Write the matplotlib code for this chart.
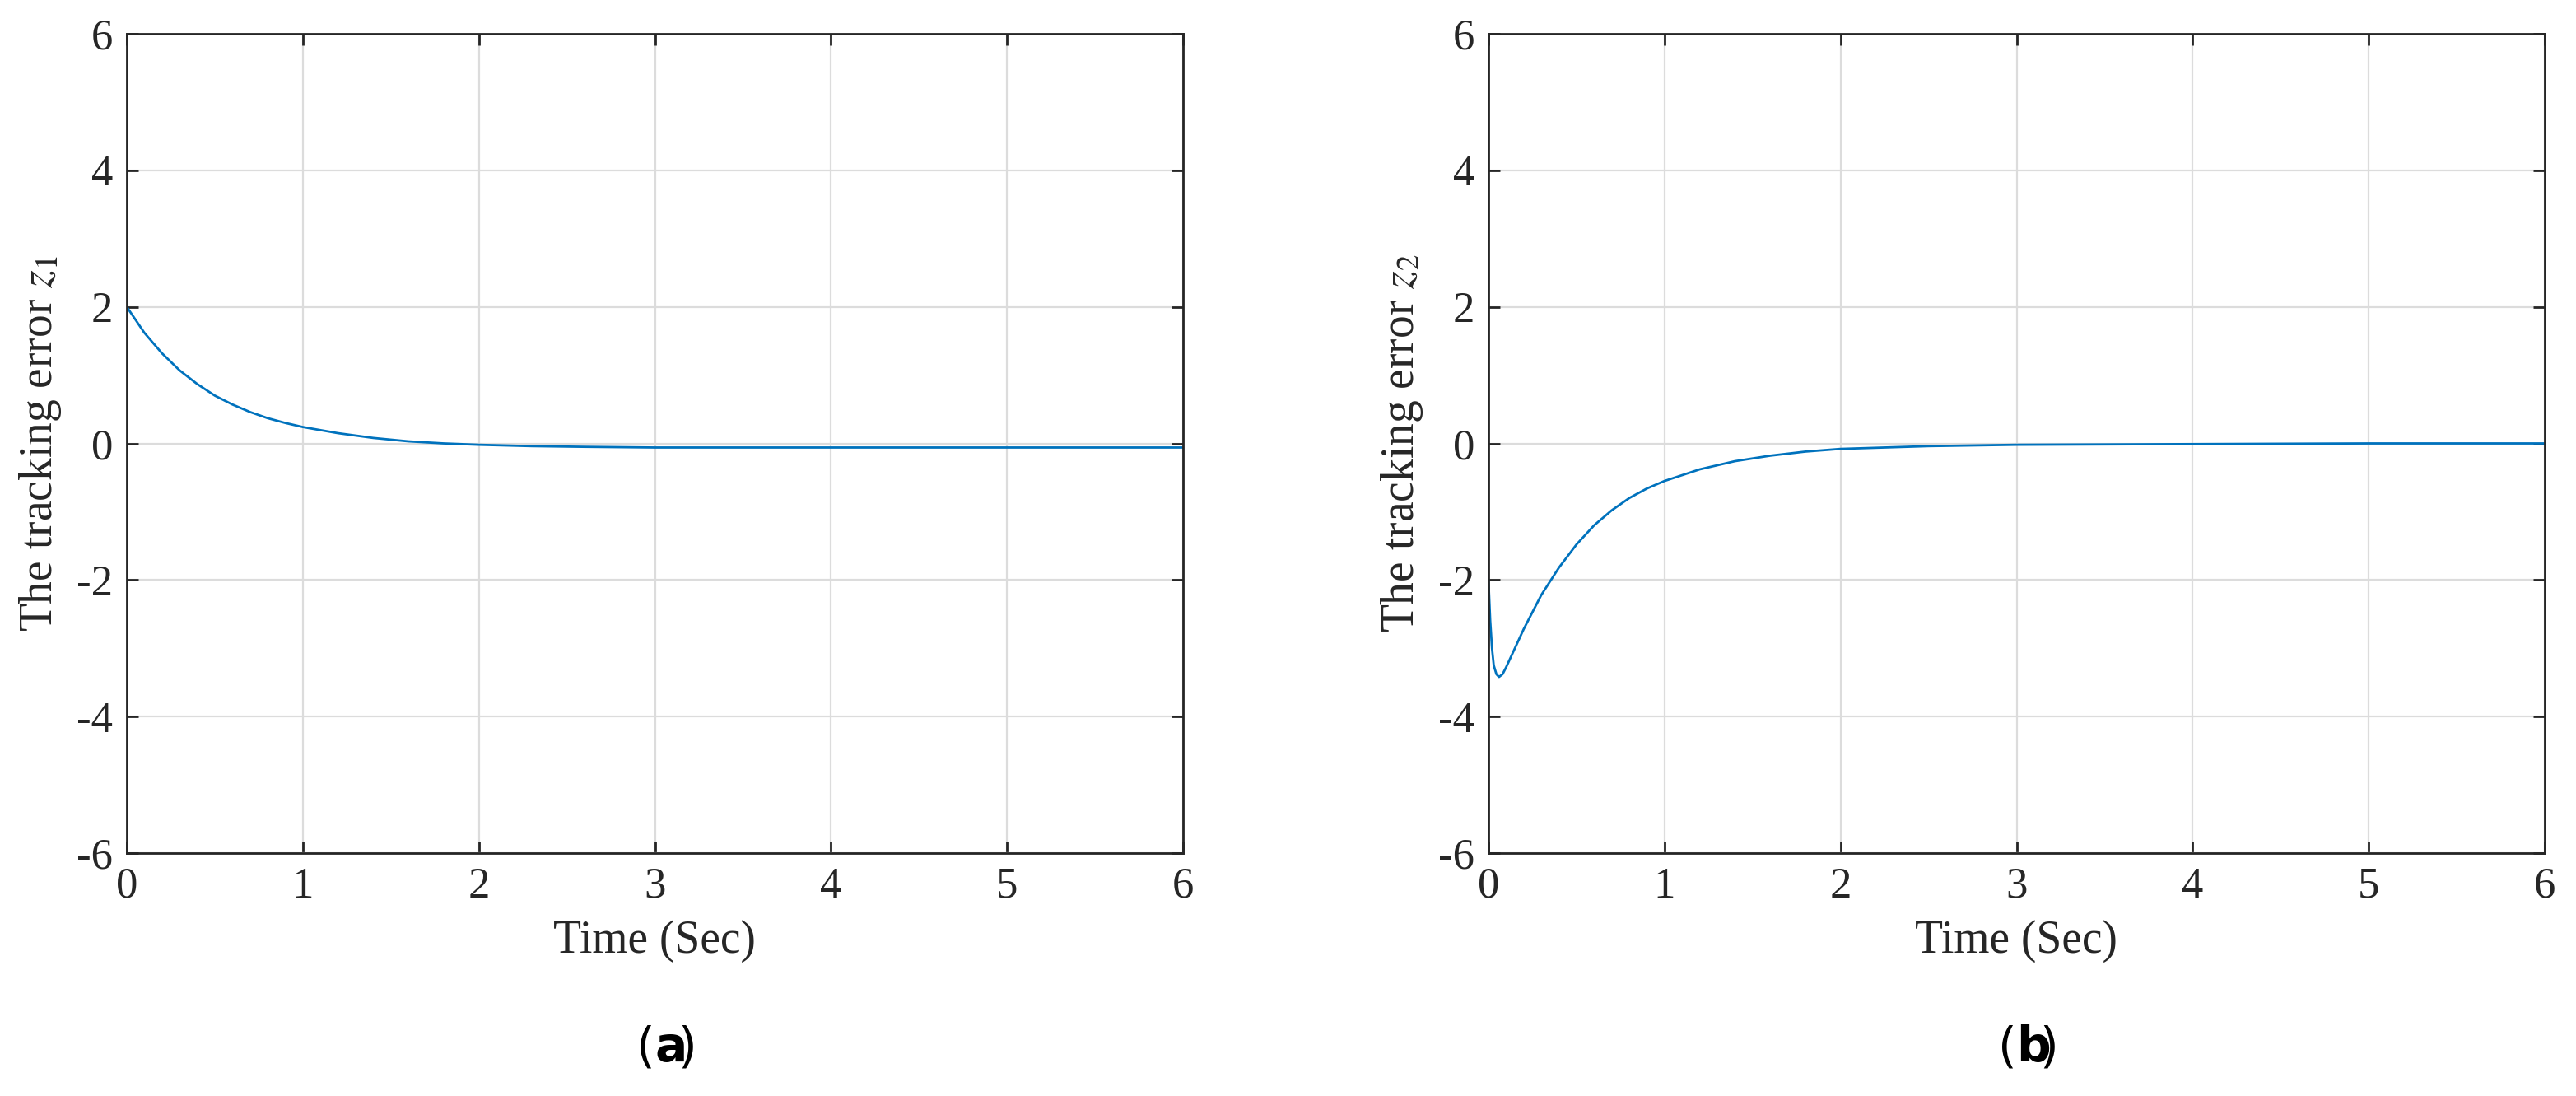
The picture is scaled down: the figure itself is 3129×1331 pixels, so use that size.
import matplotlib.pyplot as plt

# z1 tracking error samples
t1 = [0, 0.1, 0.2, 0.3, 0.4, 0.5, 0.6, 0.7, 0.8, 0.9, 1.0, 1.2, 1.4, 1.6, 1.8, 2.0,
      2.3, 2.6, 3.0, 3.5, 4.0, 5.0, 6.0]
z1 = [2.0, 1.62, 1.32, 1.07, 0.87, 0.70, 0.57, 0.46, 0.37, 0.30, 0.24, 0.15, 0.08, 0.03,
      0.0, -0.02, -0.04, -0.05, -0.06, -0.06, -0.06, -0.06, -0.06]

# z2 tracking error samples
t2 = [0, 0.01, 0.02, 0.03, 0.045, 0.06, 0.08, 0.1, 0.15, 0.2, 0.3, 0.4, 0.5, 0.6, 0.7,
      0.8, 0.9, 1.0, 1.2, 1.4, 1.6, 1.8, 2.0, 2.5, 3.0, 4.0, 5.0, 6.0]
z2 = [-2.0, -2.6, -3.0, -3.25, -3.38, -3.42, -3.38, -3.28, -3.0, -2.72, -2.22, -1.82,
      -1.48, -1.2, -0.98, -0.8, -0.66, -0.55, -0.38, -0.26, -0.18, -0.12, -0.08, -0.04,
      -0.02, -0.01, 0.0, 0.0]

xticks = [0, 1, 2, 3, 4, 5, 6]
yticks = [-6, -4, -2, 0, 2, 4, 6]
ylabels = ["The tracking error $z_1$", "The tracking error $z_2$"]
panels = ["a", "b"]

plt.rcParams["font.family"] = "Liberation Serif"
plt.rcParams["mathtext.fontset"] = "stix"
plt.rcParams["axes.unicode_minus"] = False

W, H = 3129, 1331
fig = plt.figure(figsize=(W / 200, H / 200), dpi=200)
top, bottom = 41, 1036
axes = [fig.add_axes([154 / W, 1 - bottom / H, 1283 / W, (bottom - top) / H]),
        fig.add_axes([1808 / W, 1 - bottom / H, 1283 / W, (bottom - top) / H])]

for ax, t, z, yl, p in zip(axes, [t1, t2], [z1, z2], ylabels, panels):
    ax.plot(t, z, color="#0072BD", lw=1.0)
    ax.set_xlim(0, 6)
    ax.set_ylim(-6, 6)
    ax.set_xticks(xticks)
    ax.set_yticks(yticks)
    ax.grid(True, color="#dcdcdc", lw=0.8)
    ax.tick_params(direction="in", top=True, right=True, labelsize=19, length=5, width=1,
                   colors="#262626", labelcolor="#262626", pad=6)
    for s in ax.spines.values():
        s.set_linewidth(1.0)
        s.set_color("#262626")
    ax.set_xlabel("Time (Sec)", fontsize=20, color="#262626", labelpad=6)
    ax.set_ylabel(yl, fontsize=20, color="#262626", labelpad=6)
    # panel tag "(a)" / "(b)" with bold letter
    y_tag = -(1273 - bottom) / (bottom - top)
    ax.text(0.5, y_tag, "(", transform=ax.transAxes, ha="right", va="center",
            fontsize=21, family="DejaVu Sans")
    ax.text(0.5, y_tag, p, transform=ax.transAxes, ha="left", va="center",
            fontsize=21, family="DejaVu Sans", fontweight="bold")
    ax.text(0.5 + 0.022, y_tag, ")", transform=ax.transAxes, ha="left", va="center",
            fontsize=21, family="DejaVu Sans")

fig.savefig("out.png", dpi=200, facecolor="white")
